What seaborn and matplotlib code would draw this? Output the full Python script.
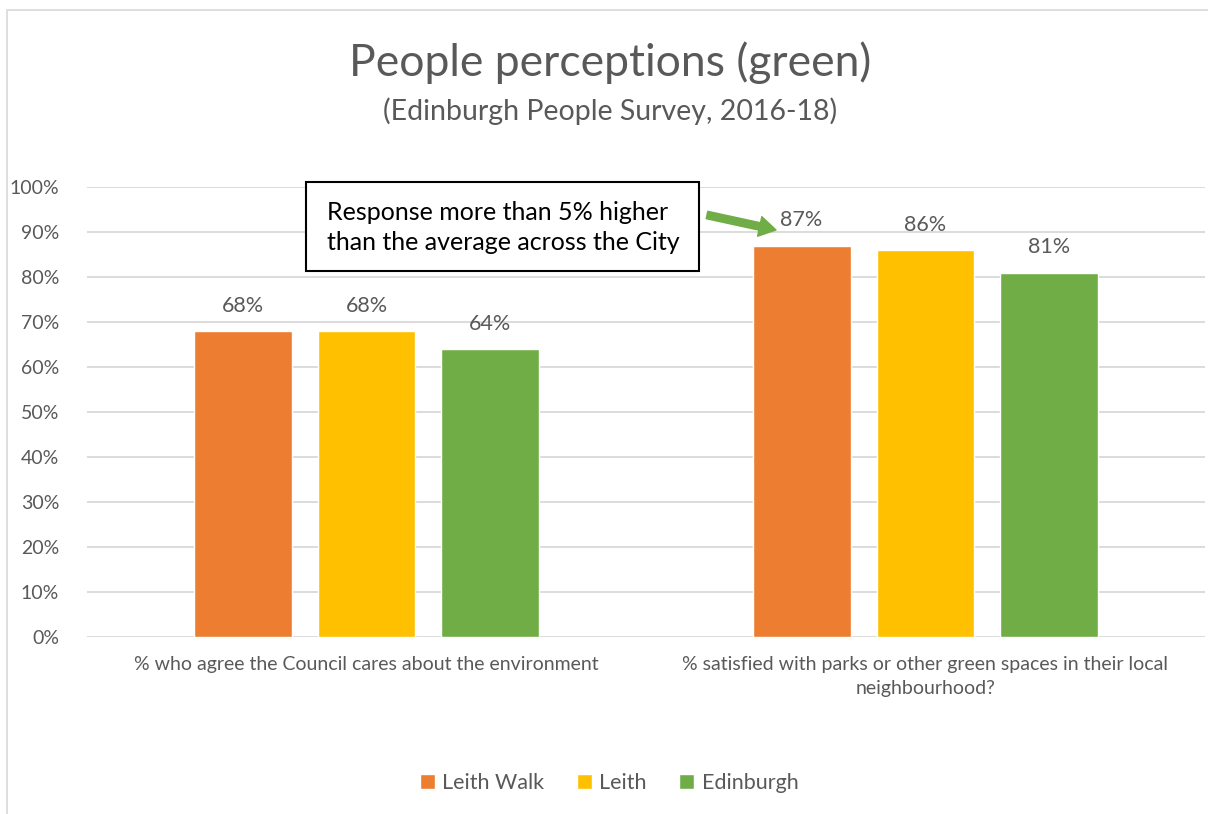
import pandas as pd
import seaborn as sns
import matplotlib.pyplot as plt
from matplotlib.patches import Rectangle
from matplotlib.ticker import PercentFormatter

# Chart values
questions = ['% who agree the Council cares about the environment',
             '% satisfied with parks or other green spaces in their local\nneighbourhood?']
areas = ['Leith Walk', 'Leith', 'Edinburgh']
leith_walk = [0.68, 0.87]
leith = [0.68, 0.86]
edinburgh = [0.64, 0.81]
colours = ['#ED7D31', '#FFC000', '#70AD47']

rows = []
for area, vals in zip(areas, [leith_walk, leith, edinburgh]):
    for q, v in zip(questions, vals):
        rows.append({'Question': q, 'Area': area, 'Value': v})
df = pd.DataFrame(rows)

sns.set_theme(style='white')
plt.rcParams['font.family'] = ['Lato', 'DejaVu Sans']
grey = '#595959'

fig = plt.figure(figsize=(12.08, 8.14), dpi=100)
ax = fig.add_axes([0.072, 0.2174, 0.9255, 0.5528])

sns.barplot(data=df, x='Question', y='Value', hue='Area', order=questions,
            hue_order=areas, palette=colours, width=0.665, gap=0.21,
            saturation=1, ax=ax, legend=True)

ax.set_ylim(0, 1)
ax.set_xlim(-0.5, 1.5)
ax.set_yticks([i / 10 for i in range(11)])
ax.yaxis.set_major_formatter(PercentFormatter(1.0, decimals=0))
ax.grid(axis='y', color='#D9D9D9', linewidth=1.3)
ax.set_axisbelow(True)
for s in ax.spines.values():
    s.set_visible(False)
ax.tick_params(axis='y', colors=grey, labelsize=14, length=0, pad=20)
ax.tick_params(axis='x', colors=grey, labelsize=14, length=0, pad=14)
for lbl in ax.get_xticklabels():
    lbl.set_linespacing(1.45)
ax.set_xlabel('')
ax.set_ylabel('')

for cont in ax.containers:
    ax.bar_label(cont, labels=[f'{v * 100:.0f}%' for v in cont.datavalues],
                 padding=11, color=grey, fontsize=15.5)

leg = ax.legend(loc='center', bbox_to_anchor=(0.467, -0.325), ncol=3,
                frameon=False, fontsize=15.5, handlelength=0.7, handleheight=0.7,
                columnspacing=1.5, handletextpad=0.35, labelcolor=grey)

# titles
fig.text(0.505, 1 - 63 / 814, 'People perceptions (green)', ha='center', va='center',
         fontsize=32, color=grey)
fig.text(0.505, 1 - 111 / 814, '(Edinburgh People Survey, 2016-18)', ha='center',
         va='center', fontsize=20.5, color=grey)

# callout box
fig.patches.append(Rectangle((306 / 1208, 1 - 271 / 814), 393 / 1208, 89 / 814,
                             transform=fig.transFigure, facecolor='white',
                             edgecolor='black', linewidth=1.5, zorder=5))
fig.text(327 / 1208, 1 - 212 / 814, 'Response more than 5% higher', ha='left',
         va='center', fontsize=18, color='black', zorder=6)
fig.text(327 / 1208, 1 - 243 / 814, 'than the average across the City', ha='left',
         va='center', fontsize=18, color='black', zorder=6)
ax.annotate('', xy=(776 / 1208, 1 - 230 / 814), xycoords='figure fraction',
            xytext=(707 / 1208, 1 - 215 / 814), textcoords='figure fraction',
            arrowprops=dict(arrowstyle='simple,head_width=1.2,head_length=1.0,tail_width=0.45',
                            color='#70AD47', shrinkA=0, shrinkB=0))

# outer border
fig.patches.append(Rectangle((7 / 1208, -0.05), 1.2, 1 - 10 / 814 + 0.05,
                             transform=fig.transFigure, fill=False,
                             edgecolor='#D9D9D9', linewidth=1.2))

fig.savefig('out.png', dpi=100)
